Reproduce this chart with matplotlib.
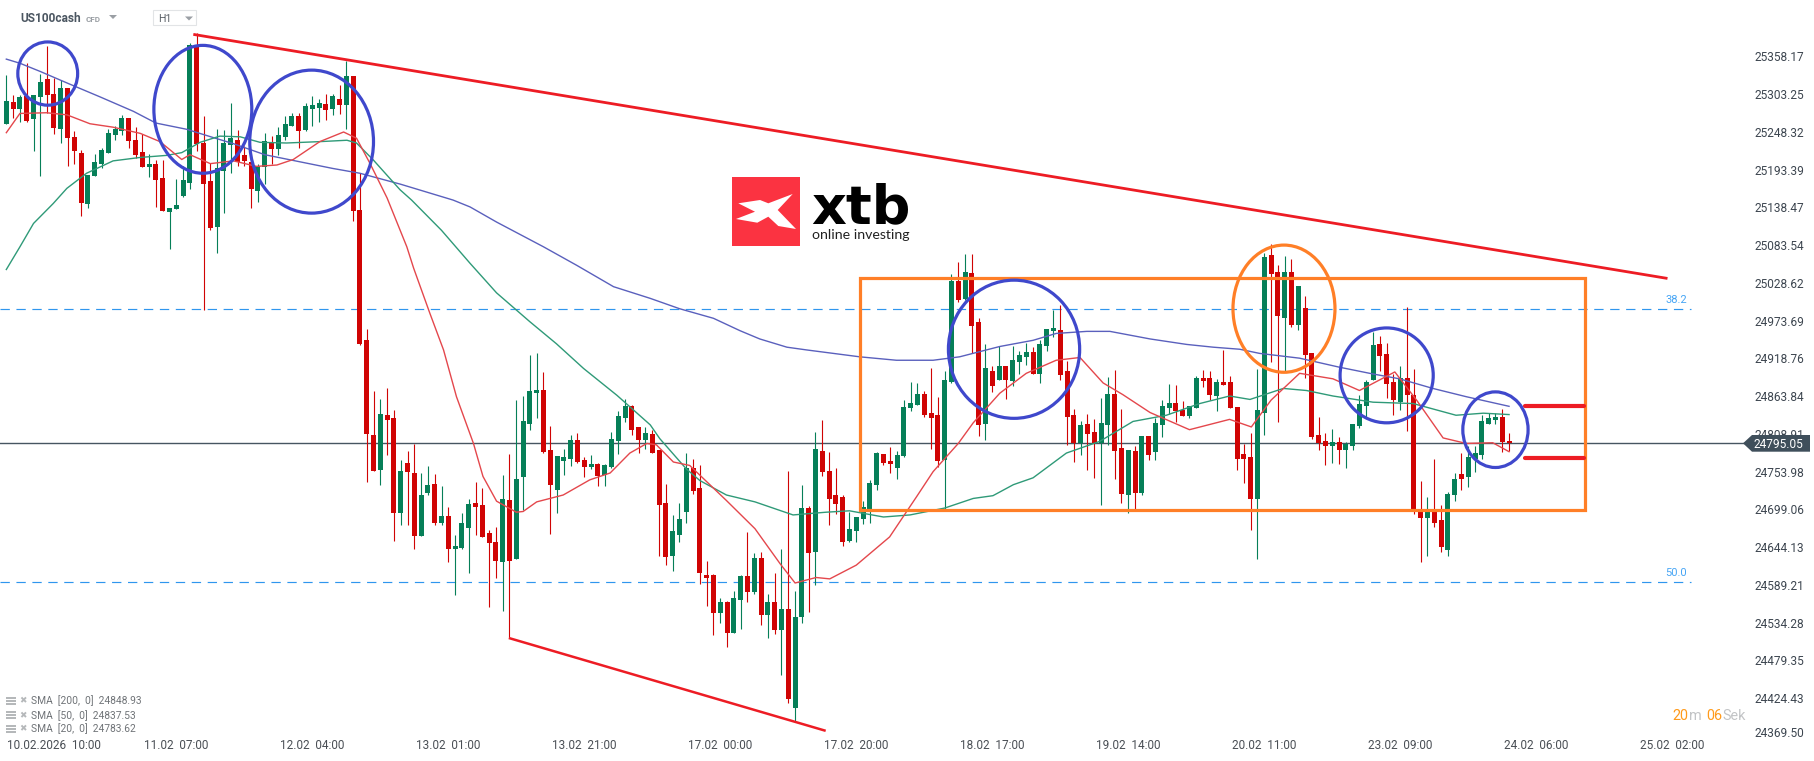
import matplotlib
matplotlib.use("Agg")
import matplotlib.pyplot as plt
from matplotlib.patches import Ellipse, Polygon, Rectangle
from matplotlib.transforms import ScaledTranslation

plt.rcParams['font.family'] = ['Roboto', 'DejaVu Sans']

WIDTH, HEIGHT = 1815, 761

# ---------- hourly candles, one entry per candle ----------
directions = ("GRGRGGRRGR" "RRGGGGGGRR" "RGRRGGGGRR" "RGGGRRRGGR" "GGGRGGGRGR"
              "GRRRRGRRGR" "RGGRGRGGGR" "RRRGRGGGGR" "RGGGRRGRGG" "GGRRGRRRGG"
              "GRRRRGRGGR" "GRGRGRGGRG" "RRRRGGGGGR" "RGGGGRRRGG" "RGRRGRGRGG"
              "GRGGGRRRGR" "RGGRRGRGRG" "GGRRGGRRGR" "RRRRGGRRGR" "GRRRRGRGGG"
              "GGRRRGRRRG" "RRGGRGGGGGRR")
highs = [
 25331,25302,25302,25348,25302,25333,25373,25326,25324,25312,
 25249,25222,25185,25216,25225,25253,25257,25273,25269,25256,
 25245,25216,25207,25207,25137,25180,25198,25378,25392,25271,
 25203,25252,25251,25290,25251,25227,25212,25202,25246,25242,
 25256,25271,25275,25275,25290,25300,25296,25304,25303,25316,
 25351,25329,25188,24962,24871,24860,24876,24844,24771,24784,
 24794,24752,24762,24750,24733,24702,24662,24694,24714,24739,
 24730,24669,24673,24749,24780,24858,24864,24924,24926,24899,
 24820,24777,24787,24807,24810,24775,24778,24766,24765,24812,
 24842,24860,24851,24819,24819,24814,24785,24736,24691,24708,
 24781,24773,24763,24624,24605,24570,24566,24580,24603,24666,
 24635,24637,24576,24606,24641,24755,24580,24734,24704,24811,
 24829,24782,24759,24720,24696,24688,24712,24742,24782,24779,
 24790,24784,24858,24884,24883,24871,24905,24863,24900,25042,
 25059,25071,25071,24978,24940,24908,24937,24908,24937,24930,
 24941,24935,24946,24962,24989,24996,24915,24845,24828,24838,
 24831,24861,24892,24902,24845,24786,24791,24806,24806,24832,
 24858,24882,24880,24857,24850,24893,24902,24900,24889,24931,
 24893,24848,24794,24810,24903,25072,25085,25054,25067,25064,
 25024,25010,24926,24834,24810,24816,24805,24797,24823,24866,
 24887,24957,24952,24941,24896,24907,24993,24904,24741,24717,
 24773,24706,24724,24752,24781,24792,24792,24836,24840,24840,24845,24810]
body_tops = [
 25293,25292,25299,25300,25302,25321,25325,25303,25312,25312,
 25241,25217,25185,25204,25222,25247,25252,25268,25268,25236,
 25219,25201,25201,25181,25137,25142,25178,25375,25375,25232,
 25177,25196,25232,25239,25236,25215,25204,25199,25235,25233,
 25244,25260,25271,25271,25286,25287,25290,25289,25300,25296,
 25329,25329,25134,24945,24807,24838,24836,24832,24755,24766,
 24752,24720,24734,24736,24689,24689,24646,24679,24707,24708,
 24705,24665,24652,24714,24713,24743,24828,24871,24873,24873,
 24785,24777,24775,24800,24800,24771,24765,24765,24764,24801,
 24835,24849,24849,24819,24810,24809,24785,24708,24668,24685,
 24759,24760,24730,24603,24603,24564,24564,24570,24602,24602,
 24628,24628,24564,24564,24554,24554,24542,24701,24701,24787,
 24784,24755,24720,24717,24670,24688,24702,24737,24781,24779,
 24769,24778,24848,24854,24867,24867,24839,24836,24887,25031,
 25031,25044,25043,24972,24905,24900,24908,24908,24916,24924,
 24928,24928,24940,24962,24963,24960,24900,24836,24822,24823,
 24812,24825,24867,24867,24788,24786,24784,24806,24806,24825,
 24850,24854,24854,24844,24850,24890,24890,24890,24884,24884,
 24884,24848,24779,24776,24843,25066,25069,25045,25045,25045,
 25024,24992,24926,24808,24798,24797,24797,24794,24823,24853,
 24885,24938,24939,24925,24884,24890,24890,24865,24698,24695,
 24695,24683,24722,24743,24750,24775,24781,24827,24832,24834,24834,24798]
body_bottoms = [
 25260,25281,25281,25264,25267,25299,25302,25254,25252,25239,
 25220,25145,25143,25184,25201,25217,25244,25249,25235,25215,
 25197,25197,25178,25133,25132,25136,25155,25174,25231,25172,
 25108,25110,25192,25229,25204,25206,25165,25162,25197,25223,
 25223,25241,25257,25250,25251,25281,25283,25280,25281,25287,
 25287,25133,24940,24809,24755,24756,24829,24694,24694,24753,
 24660,24660,24723,24679,24679,24641,24641,24643,24672,24702,
 24659,24650,24624,24622,24624,24627,24746,24823,24868,24782,
 24734,24727,24769,24772,24768,24761,24761,24748,24749,24761,
 24798,24832,24814,24800,24800,24781,24705,24630,24631,24662,
 24695,24726,24606,24599,24548,24548,24520,24520,24567,24579,
 24579,24545,24545,24523,24523,24423,24410,24542,24635,24637,
 24753,24714,24707,24651,24653,24667,24685,24699,24734,24766,
 24765,24760,24777,24847,24851,24836,24832,24770,24771,24884,
 25004,25005,24966,24822,24823,24879,24887,24887,24886,24914,
 24921,24896,24896,24937,24959,24895,24834,24796,24796,24809,
 24796,24796,24822,24784,24722,24720,24723,24723,24778,24783,
 24822,24847,24842,24835,24835,24847,24886,24866,24864,24880,
 24847,24773,24773,24714,24714,24839,25042,24981,24978,24967,
 24967,24923,24805,24795,24791,24791,24785,24785,24791,24820,
 24850,24887,24922,24881,24858,24856,24865,24698,24686,24686,
 24680,24644,24640,24720,24744,24746,24772,24778,24824,24829,24797,24795]
lows = [
 25260,25268,25262,25262,25221,25184,25275,25245,25232,25199,
 25201,25126,25137,25184,25196,25217,25236,25244,25225,25210,
 25197,25183,25139,25133,25078,25136,25154,25165,25220,24989,
 25105,25072,25130,25188,25199,25199,25137,25146,25173,25201,
 25215,25236,25257,25225,25250,25257,25263,25265,25273,25274,
 25252,25119,24938,24739,24755,24734,24778,24653,24676,24676,
 24641,24660,24720,24676,24676,24622,24574,24641,24606,24662,
 24659,24557,24599,24551,24512,24627,24698,24814,24832,24781,
 24663,24694,24749,24762,24766,24746,24758,24733,24733,24759,
 24780,24826,24807,24781,24787,24781,24631,24618,24609,24652,
 24679,24721,24590,24558,24516,24534,24499,24520,24525,24564,
 24576,24531,24512,24518,24458,24417,24390,24534,24550,24589,
 24747,24676,24692,24646,24651,24651,24678,24679,24727,24763,
 24752,24744,24776,24842,24851,24834,24787,24761,24700,24883,
 25001,25004,24926,24806,24800,24870,24887,24860,24879,24896,
 24909,24896,24883,24930,24950,24887,24793,24768,24778,24756,
 24745,24706,24793,24743,24708,24694,24700,24720,24771,24771,
 24804,24838,24826,24835,24832,24847,24877,24858,24842,24880,
 24847,24757,24737,24669,24627,24807,24914,24826,24901,24964,
 24960,24890,24802,24786,24763,24766,24765,24760,24785,24817,
 24833,24887,24901,24861,24837,24843,24813,24693,24622,24631,
 24673,24637,24632,24712,24727,24731,24753,24773,24824,24823,24782,24784]

# ---------- moving averages, read at these candle positions ----------
sma200_x = [0,2,5,9,13.8,18.7,22,26.5,30.4,33.4,38,43,48,52,58,65.7,68.2,72.1,79,83.9,89.3,94.7,99,104,
            107.9,110.8,114.8,117.7,125.5,130.9,136.3,140.2,146.1,151,154.4,158.9,162.3,168.2,173.6,
            177.5,181.4,184.3,190.2,196,201,204.9,209.8,214.7,221]
sma200_y = [25354,25348,25336,25319,25299,25278,25261,25252,25240,25231,25215,25205,25195,25188,25172,25149,
            25139,25117,25081,25054,25023,25006,24991,24977,24959,24947,24935,24931,24921,24916,24916,
            24921,24936,24945,24955,24958,24958,24947,24939,24935,24932,24926,24919,24906,24896,24889,
            24875,24863,24849]
sma50_x = [0,2,4,6.9,8.9,11.8,15.7,19.7,23.6,25.8,28.5,31.4,34.4,37.3,41.2,46.1,50.1,51.5,54,57.9,59.6,64,
           68.2,72.1,77,80.9,84.9,89.8,94.7,96.1,100,102,105.9,110.1,115.7,120.6,124,129,132.9,138,142.2,
           145.1,148.1,151,155.9,160.8,165.7,170.6,175.5,179.9,182.9,187.8,191.2,195.1,201,206.9,213.2,
           217.2,221]
sma50_y = [25048,25081,25115,25144,25166,25188,25206,25211,25214,25218,25233,25242,25241,25233,25232,25234,
           25236,25232,25207,25164,25149,25105,25057,25014,24972,24940,24904,24865,24822,24802,24758,24741,
           24720,24710,24691,24695,24697,24688,24691,24701,24715,24719,24735,24745,24781,24798,24827,24836,
           24853,24864,24859,24875,24872,24864,24855,24853,24836,24839,24837]
sma20_x = [0,2,5.9,8.9,12.3,15.7,19.7,22.6,25.8,27,30,33.4,36.8,39.8,42.2,46.1,49.6,51.5,53.5,56,58.9,59.9,
           62.3,64.3,66.2,68.7,70.1,72.1,75,76,78,81.9,85.8,88.8,91.7,94.2,95.6,98.1,100.5,105.9,110.1,
           113.8,116,119.1,121.1,125,129.9,133.9,136.3,140,142.2,146.1,150,154.4,157.9,161.3,164.2,168.2,
           174,179.9,183.1,186,190.2,195.1,199,204.2,207.4,211.3,214.7,218.6,221]
sma20_y = [25247,25275,25276,25273,25260,25255,25246,25234,25208,25215,25202,25206,25198,25200,25208,25234,
           25248,25239,25202,25152,25081,25050,24984,24931,24863,24795,24747,24711,24695,24696,24710,24720,
           24742,24752,24781,24795,24793,24768,24763,24712,24671,24620,24592,24600,24598,24618,24659,24718,
           24754,24795,24825,24868,24897,24916,24920,24883,24866,24840,24815,24830,24819,24858,24897,24889,
           24872,24899,24858,24803,24795,24796,24783]

# ---------- axis text ----------
price_ticks = [25358.17,25303.25,25248.32,25193.39,25138.47,25083.54,25028.62,24973.69,24918.76,24863.84,
               24808.91,24753.98,24699.06,24644.13,24589.21,24534.28,24479.35,24424.43,24369.50]
time_ticks = [7,25,45,65,85,105,125,145,165,185,205,225,245]
time_labels = ["10.02.2026  10:00","11.02  07:00","12.02  04:00","13.02  01:00","13.02  21:00","17.02  00:00",
               "17.02  20:00","18.02  17:00","19.02  14:00","20.02  11:00","23.02  09:00","24.02  06:00",
               "25.02  02:00"]
current_price = 24795.05
fib_levels = [24990, 24594]
fib_labels = ["38.2", "50.0"]
sma_legend = ["SMA  [200,  0]  24848.93", "SMA  [50,  0]  24837.53", "SMA  [20,  0]  24783.62"]

# ---------- hand-drawn analysis marks, in candle position / price ----------
upper_trend_x, upper_trend_y = [27.5, 244.3], [25390, 25035]
lower_trend_x, lower_trend_y = [73.9, 120.5], [24512, 24377]
box_x, box_y = [125.6, 232.2], [24698, 25036]
blue_circles = [(6.09,25333,8.8,92),(28.9,25281,14.4,186),(44.9,25234,18.2,208),(148.2,24932,19.3,201),
                (203,24894,13.7,138),(219,24815,9.6,110)]
orange_circle = (187.9,24991,15,185)
target_x = [223.3, 232]
target_levels = [24850, 24774]

GREEN, RED = "#067f58", "#d00404"
BLUE_MARK, ORANGE_MARK, RED_MARK = "#3f48cc", "#ff7f27", "#ed1c24"
FIB = "#2f96ee"
SLATE = "#465561"

assert all(len(s) == 222 for s in (directions, highs, body_tops, body_bottoms, lows))

fig = plt.figure(figsize=(WIDTH/100, HEIGHT/100), dpi=100, facecolor="white")
ax = fig.add_axes([0, 1-737/HEIGHT, 1745/WIDTH, 737/HEIGHT])
ax.set_xlim(-0.93, 255.7)
ax.set_ylim(24368, 25440)
for s in ax.spines.values():
    s.set_visible(False)

# levels
for lvl, lab in zip(fib_levels, fib_labels):
    ax.plot([-0.93, 247.7], [lvl, lvl], color=FIB, lw=0.85, dashes=(7.9, 5.6), zorder=1)
    ax.text(245.6, lvl+13, lab, color="#46a5f5", fontsize=8, ha="center", va="center", zorder=1)
ax.axhline(current_price, color=SLATE, lw=1.0, zorder=1)

# candles
x = list(range(len(directions)))
cols = [GREEN if d == "G" else RED for d in directions]
ax.vlines(x, lows, highs, colors=cols, lw=0.8, zorder=2)
ax.bar(x, [t-b for t, b in zip(body_tops, body_bottoms)], bottom=body_bottoms, width=0.74,
       color=cols, linewidth=0, zorder=2.1)

# moving averages
ax.plot(sma200_x, sma200_y, color="#5a60bd", lw=1.0, zorder=3)
ax.plot(sma50_x, sma50_y, color="#2f9a78", lw=1.0, zorder=3)
ax.plot(sma20_x, sma20_y, color="#e4474c", lw=1.0, zorder=3)

# analysis marks
ax.plot(upper_trend_x, upper_trend_y, color=RED_MARK, lw=2.0, zorder=4, solid_capstyle="butt")
ax.plot(lower_trend_x, lower_trend_y, color=RED_MARK, lw=1.8, zorder=4, solid_capstyle="butt")
ax.add_patch(Rectangle((box_x[0], box_y[0]), box_x[1]-box_x[0], box_y[1]-box_y[0], fill=False,
                       edgecolor=ORANGE_MARK, lw=2.3, zorder=4))
for cx, cy, w, h in blue_circles:
    ax.add_patch(Ellipse((cx, cy), w, h, fill=False, edgecolor=BLUE_MARK, lw=2.3, zorder=4.5))
ax.add_patch(Ellipse(orange_circle[:2], orange_circle[2], orange_circle[3], fill=False,
                     edgecolor=ORANGE_MARK, lw=2.3, zorder=4.5))
for lvl in target_levels:
    ax.plot(target_x, [lvl, lvl], color=RED_MARK, lw=3.0, zorder=4, solid_capstyle="round")

# axes ticks
ax.yaxis.tick_right()
ax.set_yticks(price_ticks, [f"{p:.2f}" for p in price_ticks])
ax.set_xticks(time_ticks, time_labels)
ax.tick_params(axis="y", length=0, pad=7.2, labelsize=8.6, labelcolor="#3d4650")
ax.tick_params(axis="x", length=0, pad=1.6, labelsize=8.5, labelcolor="#4a4f55")
last = ax.get_yticklabels()[-1]
last.set_transform(last.get_transform() + ScaledTranslation(0, 4/100, fig.dpi_scale_trans))

def fx(px): return px/WIDTH
def fy(py): return 1-py/HEIGHT
def poly(pts, **kw):
    fig.add_artist(Polygon([(fx(a), fy(b)) for a, b in pts], closed=True, transform=fig.transFigure, **kw))
def ftext(px, py, s, **kw):
    kw.setdefault("va", "center")
    fig.text(fx(px), fy(py), s, **kw)

# current price badge
poly([(1743,443.3),(1752,435),(1810,435),(1810,451.7),(1752,451.7)], facecolor="#3f4f5b", edgecolor="none", zorder=5)
ftext(1754, 444, f"{current_price:.2f}", color="white", fontsize=8.6, zorder=6)

# header
ftext(20, 18.5, "US100cash", color="#4b5661", fontsize=8.6, fontweight="bold")
ftext(86, 19.5, "CFD", color="#9a9fa4", fontsize=5.8, fontweight="bold")
poly([(109,15),(117,15),(113,19)], facecolor="#9a9fa4", edgecolor="none")
fig.add_artist(Rectangle((fx(153.5), fy(25)), 43/WIDTH, 14.5/HEIGHT, transform=fig.transFigure,
                         facecolor="white", edgecolor="#e2e4e6", lw=0.8))
ftext(158, 19.5, "H1", color="#5a6066", fontsize=7.6)
poly([(185,16.5),(193,16.5),(189,20.5)], facecolor="#9a9fa4", edgecolor="none")

# logo
fig.add_artist(Rectangle((fx(732), fy(245.7)), 68/WIDTH, 68.4/HEIGHT, transform=fig.transFigure,
                         facecolor="#fb3341", edgecolor="none"))
poly([(738.3,203.3),(760,200),(768.3,203.3),(792.7,194),(777.7,210),(796,229),(778.3,226),(768.3,216.7),
      (757.3,222.7),(736,219),(755,211.7)], facecolor="white", edgecolor="none")
ftext(811, 203, "xtb", color="black", fontsize=39, fontweight="bold", family="DejaVu Sans",
      va="center_baseline")
ftext(812.5, 235, "online investing", color="#222222", fontsize=10.2, family="Lato")

# SMA legend
for py, label in zip([701, 715.3, 729], sma_legend):
    for dy in (-3, 0, 3):
        fig.add_artist(Rectangle((fx(6), fy(py+dy+1)), 10/WIDTH, 2/HEIGHT, transform=fig.transFigure,
                                 facecolor="#b5b8ba", edgecolor="none"))
    ftext(19.5, py, "✖", color="#b5b8ba", fontsize=6.4, family="DejaVu Sans")
    ftext(31, py, label, color="#6f7377", fontsize=7.4)

# countdown
ftext(1672.5, 716, "20", color="#ff9a1a", fontsize=10.4)
ftext(1689.5, 716, "m", color="#c2c4c6", fontsize=10.4)
ftext(1706, 716, "06", color="#ff9a1a", fontsize=10.4)
ftext(1722.5, 716, "Sek", color="#c2c4c6", fontsize=10.4)

fig.savefig("out.png", dpi=100, facecolor="white")
